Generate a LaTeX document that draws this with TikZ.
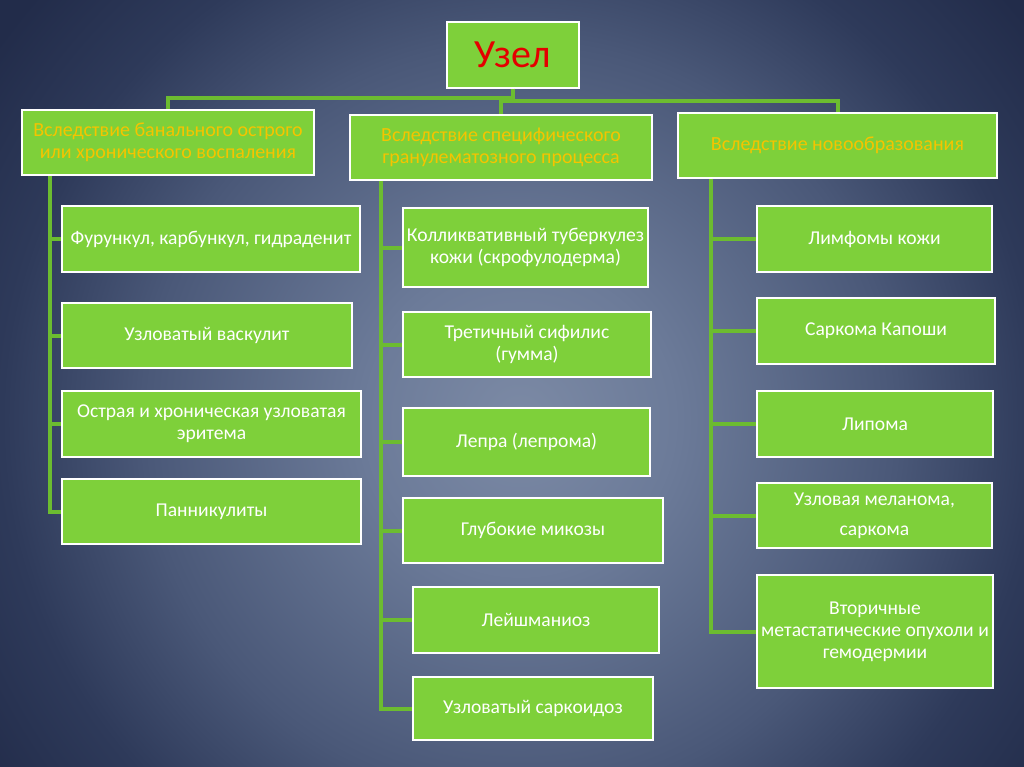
\documentclass[tikz,border=0pt]{standalone}
\usepackage{fontspec}
\setmainfont{Carlito}
\definecolor{bga}{RGB}{124,138,165}
\definecolor{bgb}{RGB}{108,123,153}
\definecolor{bgc}{RGB}{74,88,120}
\definecolor{bgd}{RGB}{46,58,90}
\definecolor{bge}{RGB}{34,44,74}
\definecolor{boxgreen}{RGB}{126,208,58}
\definecolor{linkgreen}{RGB}{108,188,48}
\definecolor{headgold}{RGB}{245,196,0}
\definecolor{titlered}{RGB}{228,0,0}
\pgfdeclareradialshading{bgshade}{\pgfpoint{0bp}{0bp}}{color(0bp)=(bga); color(5.5bp)=(bgb); color(13.5bp)=(bgc); color(18.5bp)=(bgd); color(23bp)=(bge); color(50bp)=(bge)}
\tikzset{
  box/.style={draw=white, line width=2pt, fill=boxgreen, text=white, align=center,
    inner sep=0pt, font=\fontsize{19.6}{22}\selectfont},
  head/.style={box, text=headgold, font=\fontsize{20}{22}\selectfont},
  link/.style={draw=linkgreen, line width=4pt},
}
\begin{document}
\begin{tikzpicture}[x=1pt,y=-1pt]
    % background
    \useasboundingbox (0,0) rectangle (1024,767);
    \begin{scope}
      \clip (0,0) rectangle (1024,767);
      \shade[shading=bgshade] (-180,-280) rectangle (1220,1120);
    \end{scope}
    % top
    \node[box, minimum width=132pt, minimum height=66pt, text=titlered,
      font=\fontsize{40}{44}\selectfont] (uzel) at (513,55) {Узел};
    % headers
    \node[head, minimum width=292pt, minimum height=65pt] (h1) at (168,142.5) {Вследствие банального острого\\или хронического воспаления};
    \node[head, minimum width=302pt, minimum height=65pt] (h2) at (501,147.5) {Вследствие специфического\\гранулематозного процесса};
    \node[head, minimum width=319pt, minimum height=65pt] (h3) at (837.5,145.5) {Вследствие новообразования};
    % left column
    \node[box, minimum width=298pt, minimum height=66pt] (c1) at (211,239) {Фурункул, карбункул, гидраденит};
    \node[box, minimum width=290pt, minimum height=65pt] (c2) at (207,335.5) {Узловатый васкулит};
    \node[box, minimum width=299pt, minimum height=66pt] (c3) at (211.5,424) {Острая и хроническая узловатая\\эритема};
    \node[box, minimum width=299pt, minimum height=65pt] (c4) at (211.5,511.5) {Панникулиты};
    % middle column
    \node[box, minimum width=245pt, minimum height=79pt] (m1) at (525.5,247.5) {Колликвативный туберкулез\\кожи (скрофулодерма)};
    \node[box, minimum width=248pt, minimum height=65pt] (m2) at (527,344.5) {Третичный сифилис\\(гумма)};
    \node[box, minimum width=247pt, minimum height=68pt] (m3) at (526.5,442) {Лепра (лепрома)};
    \node[box, minimum width=260pt, minimum height=65pt] (m4) at (533,530.5) {Глубокие микозы};
    \node[box, minimum width=246pt, minimum height=66pt] (m5) at (536,620) {Лейшманиоз};
    \node[box, minimum width=240pt, minimum height=63pt] (m6) at (533,708.5) {Узловатый саркоидоз};
    % right column
    \node[box, minimum width=235pt, minimum height=66pt] (r1) at (874.5,239) {Лимфомы кожи};
    \node[box, minimum width=238pt, minimum height=66pt] (r2) at (876,331) {Саркома Капоши};
    \node[box, minimum width=236pt, minimum height=66pt] (r3) at (875,424) {Липома};
    \node[box, minimum width=235pt, minimum height=65pt] (r4) at (874.5,515.5) {Узловая меланома,\\[8pt]саркома};
    \node[box, minimum width=236pt, minimum height=113pt] (r5) at (875,631.5) {Вторичные\\метастатические опухоли и\\гемодермии};
    % links
    \coordinate (s1) at (50,0);
    \coordinate (s2) at (381,0);
    \coordinate (s3) at (711,0);
    \draw[link] (uzel.south) -- ++(0,9) -| (h1.north);
    \draw[link] (uzel.south) -- ++(0,12) -| (h2.north);
    \draw[link] (uzel.south) -- ++(0,12) -| (h3.north);
    \draw[link] (h1.south -| s1) |- (c4.west);
    \draw[link] (h2.south -| s2) |- (m6.west);
    \draw[link] (h3.south -| s3) |- (r5.west);
    \foreach \n in {c1,c2,c3}
      \draw[link] (\n.west -| s1) -- (\n.west);
    \foreach \n in {m1,m2,m3,m4,m5}
      \draw[link] (\n.west -| s2) -- (\n.west);
    \foreach \n in {r1,r2,r3,r4}
      \draw[link] (\n.west -| s3) -- (\n.west);
\end{tikzpicture}
\end{document}
